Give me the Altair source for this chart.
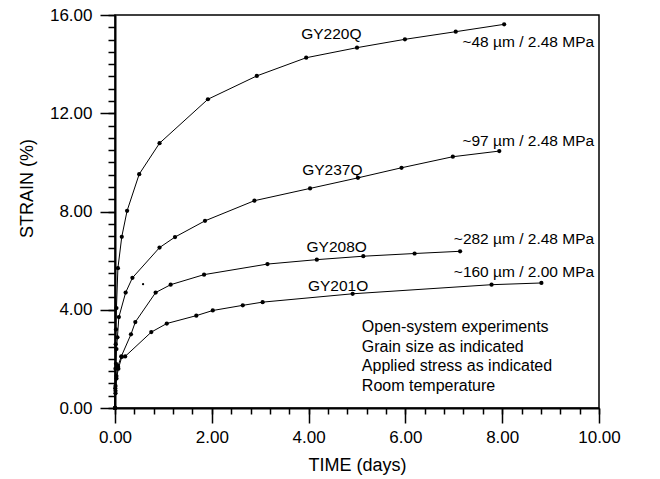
import altair as alt
import pandas as pd

# ---- data (time in days, strain in %) ----
gy220_t = [0, 0.005, 0.01, 0.015, 0.02, 0.03, 0.06, 0.14, 0.25, 0.50, 0.92, 1.92, 2.93, 3.95, 5.00, 5.99, 7.04, 8.04]
gy220_s = [0, 0.8, 1.6, 2.6, 3.2, 4.07, 5.69, 6.97, 8.03, 9.52, 10.78, 12.57, 13.52, 14.26, 14.67, 15.01, 15.32, 15.62]

gy237_t = [0, 0.01, 0.02, 0.03, 0.05, 0.08, 0.22, 0.36, 0.92, 1.24, 1.86, 2.88, 4.03, 5.02, 5.92, 6.98, 7.94]
gy237_s = [0, 0.9, 1.8, 2.4, 2.88, 3.7, 4.7, 5.3, 6.53, 6.96, 7.62, 8.44, 8.94, 9.37, 9.78, 10.23, 10.46]

gy208_t = [0, 0.01, 0.03, 0.06, 0.13, 0.33, 0.42, 0.84, 1.15, 1.84, 3.15, 4.17, 5.13, 6.19, 7.13]
gy208_s = [0, 0.7, 1.3, 1.7, 2.1, 3.0, 3.5, 4.7, 5.02, 5.43, 5.86, 6.04, 6.18, 6.29, 6.38]

gy201_t = [0, 0.01, 0.03, 0.07, 0.14, 0.21, 0.75, 1.07, 1.68, 2.02, 2.64, 3.05, 4.91, 7.78, 8.81]
gy201_s = [0, 0.6, 1.2, 1.6, 2.08, 2.1, 3.09, 3.44, 3.76, 3.97, 4.18, 4.31, 4.65, 5.02, 5.09]

stray_t = [0.58]
stray_s = [5.04]

series_names = ["GY220Q", "GY237Q", "GY208O", "GY201O"]
series_t = [gy220_t, gy237_t, gy208_t, gy201_t]
series_s = [gy220_s, gy237_s, gy208_s, gy201_s]

# curve name labels
name_text = ["GY220Q", "GY237Q", "GY208O", "GY201O"]
name_x = [4.47, 4.49, 4.58, 4.61]
name_y = [15.22, 9.7, 6.55, 4.96]

# grain size / stress labels
cond_text = ["~48 µm / 2.48 MPa", "~97 µm / 2.48 MPa", "~282 µm / 2.48 MPa", "~160 µm / 2.00 MPa"]
cond_x = [9.9, 9.9, 9.9, 9.9]
cond_y = [14.9, 10.88, 6.9, 5.52]

# notes block
note_text = ["Open-system experiments", "Grain size as indicated",
             "Applied stress as indicated", "Room temperature"]
note_x = [5.1, 5.1, 5.1, 5.1]
note_y = [3.3, 2.5, 1.7, 0.9]

x_major = [0, 2, 4, 6, 8, 10]
x_minor = [round(i * 0.4, 1) for i in range(26)]
y_major = [0, 4, 8, 12, 16]
y_minor = [i * 0.5 for i in range(33)]

# ---- tables ----
rows = []
for name, ts, ss in zip(series_names, series_t, series_s):
    for i, (t, s) in enumerate(zip(ts, ss)):
        rows.append({"curve": name, "idx": i, "t": t, "s": s})
df = pd.DataFrame(rows)
stray_df = pd.DataFrame({"t": stray_t, "s": stray_s})
name_df = pd.DataFrame({"x": name_x, "y": name_y, "label": name_text})
cond_df = pd.DataFrame({"x": cond_x, "y": cond_y, "label": cond_text})
note_df = pd.DataFrame({"x": note_x, "y": note_y, "label": note_text})

FONT = "Liberation Sans"
xs = alt.Scale(domain=[0, 10], nice=False, zero=False)
ys = alt.Scale(domain=[0, 16], nice=False, zero=False)

x_axis_major = alt.Axis(
    orient="bottom",
    values=x_major,
    format=".2f",
    title="TIME (days)",
    tickSize=15,
    labelFlush=False,
    labelOverlap=False,
    labelPadding=6,
    labelFontSize=17,
    titleFontSize=18,
    titleFontWeight="normal",
    titleX=242,
    titleY=57,
    titleBaseline="middle",
    titleAlign="center",
    grid=False,
)
y_axis_major = alt.Axis(
    orient="left",
    values=y_major,
    format=".2f",
    title="STRAIN (%)",
    tickSize=15,
    labelFlush=False,
    labelOverlap=False,
    labelPadding=8,
    labelFontSize=17,
    titleFontSize=18,
    titleFontWeight="normal",
    titleAngle=270,
    titleX=-88,
    titleY=173,
    titleBaseline="middle",
    titleAlign="center",
    grid=False,
)
x_axis_minor = alt.Axis(
    orient="bottom", values=x_minor, tickSize=6, labels=False, domain=False,
    title=None, grid=False,
)
y_axis_minor = alt.Axis(
    orient="left", values=y_minor, tickSize=7, labels=False, domain=False,
    title=None, grid=False,
)

lines = alt.Chart(df).mark_line(color="black", strokeWidth=1).encode(
    x=alt.X("t:Q", scale=xs, axis=x_axis_major),
    y=alt.Y("s:Q", scale=ys, axis=y_axis_major),
    detail="curve:N",
    order="idx:Q",
)
points = alt.Chart(df).mark_point(filled=True, color="black", size=18, opacity=1).encode(
    x=alt.X("t:Q", scale=xs, axis=x_axis_minor),
    y=alt.Y("s:Q", scale=ys, axis=y_axis_minor),
)
stray = alt.Chart(stray_df).mark_point(filled=True, color="black", size=5, opacity=1).encode(
    x=alt.X("t:Q", scale=xs, axis=None),
    y=alt.Y("s:Q", scale=ys, axis=None),
)
names = alt.Chart(name_df).mark_text(font=FONT, fontSize=15.5, align="center", baseline="middle", color="black").encode(
    x=alt.X("x:Q", scale=xs, axis=None), y=alt.Y("y:Q", scale=ys, axis=None), text="label:N"
)
conds = alt.Chart(cond_df).mark_text(font=FONT, fontSize=15.5, align="right", baseline="middle", color="black").encode(
    x=alt.X("x:Q", scale=xs, axis=None), y=alt.Y("y:Q", scale=ys, axis=None), text="label:N"
)
notes = alt.Chart(note_df).mark_text(font=FONT, fontSize=16, align="left", baseline="middle", color="black").encode(
    x=alt.X("x:Q", scale=xs, axis=None), y=alt.Y("y:Q", scale=ys, axis=None), text="label:N"
)

chart = alt.layer(lines, points, stray, names, conds, notes).resolve_axis(
    x="independent", y="independent"
).properties(
    width=484,
    height=393,
    autosize=alt.AutoSizeParams(type="none"),
    padding={"left": 115, "top": 15, "right": 61, "bottom": 71},
    background="white",
).configure_view(
    stroke="black", strokeWidth=1.5
).configure_axis(
    domainColor="black",
    domainWidth=2,
    tickColor="black",
    tickWidth=1.5,
    labelColor="black",
    titleColor="black",
    labelFont=FONT,
    titleFont=FONT,
)

chart.save("out.html", embed_options={"renderer": "svg", "actions": False})
